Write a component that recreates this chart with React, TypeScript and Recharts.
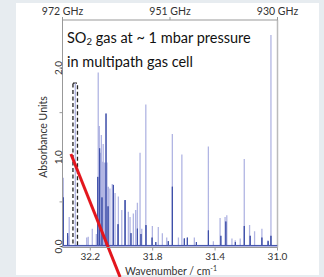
import React from "react"
import {
  LineChart,
  Line,
  XAxis,
  YAxis,
  ReferenceLine,
  ReferenceArea
} from "recharts"

// simulated line list (light lavender sticks)
const lightWn = [
  32.373, 32.345, 32.335, 32.296, 32.223, 32.213, 32.187, 32.161, 32.149, 32.142,
  32.136, 32.129, 32.123, 32.117, 32.110, 32.104, 32.093, 32.084, 32.074, 32.059,
  32.041, 32.020, 31.998, 31.977, 31.956, 31.945, 31.924, 31.909, 31.898, 31.881,
  31.870, 31.844, 31.802, 31.764, 31.738, 31.710, 31.674, 31.635, 31.613, 31.597,
  31.533, 31.443, 31.411, 31.368, 31.336, 31.325, 31.292, 31.271, 31.239, 31.213,
  31.179, 31.147, 31.100, 31.061, 31.042
]
const lightAbs = [
  0.77, 0.12, 0.33, 1.83, 0.10, 0.11, 0.20, 0.14, 1.95, 1.35,
  1.05, 1.25, 0.95, 1.15, 0.94, 0.94, 0.94, 0.67, 0.65, 0.70,
  0.60, 0.56, 0.41, 0.52, 0.39, 0.33, 0.37, 0.41, 0.49, 1.05,
  0.20, 1.59, 0.23, 0.22, 0.15, 0.10, 1.26, 0.10, 1.03, 0.09,
  0.10, 1.12, 0.06, 0.32, 0.33, 0.35, 0.09, 0.07, 0.09, 0.98,
  0.24, 0.17, 0.20, 0.07, 2.37
]

// measured spectrum (dark blue)
const darkWn = [
  32.373, 32.345, 32.152, 32.140, 32.125, 32.099, 32.086, 32.052,
  32.022, 31.977, 31.939, 31.898, 31.875, 31.843, 31.804, 31.780, 31.700, 31.674,
  31.597, 31.578, 31.520, 31.443, 31.363, 31.331, 31.270, 31.213, 31.175, 31.100,
  31.060, 31.042
]
const darkAbs = [
  0.55, 0.15, 0.78, 1.10, 0.55, 1.49, 0.45, 0.69,
  0.25, 0.52, 0.15, 0.20, 0.14, 0.24, 0.10, 0.05, 0.06, 0.67,
  0.09, 0.10, 0.05, 0.18, 0.12, 0.28, 0.05, 0.23, 0.12, 0.10,
  0.06, 0.12
]

const wnTicks = [32.2, 31.8, 31.4, 31.0]
const ghzTicks = [972, 951, 930]
const absTicks = [0, 0.5, 1, 1.5, 2]

const WN_MAX = 32.378
const WN_MIN = 31.0

function sticks(wn: number[], abs: number[], base: number) {
  const pts: { wn: number; a: number }[] = [{ wn: WN_MAX, a: base }]
  wn.forEach((w, i) => {
    pts.push({ wn: w, a: base })
    pts.push({ wn: w, a: abs[i] })
    pts.push({ wn: w, a: base })
  })
  pts.push({ wn: WN_MIN, a: base })
  return pts
}

const lightData = sticks(lightWn, lightAbs, 0)
const darkData = sticks(darkWn, darkAbs, 0.012)
// only there so the GHz axis has something bound to it
const ghzData = ghzTicks.map((g) => ({ ghz: g, a: null }))

const font = "Lato, 'Open Sans', sans-serif"

const YTick = (props: any) => {
  const { x, y, payload } = props
  if (payload.value % 1 !== 0) return <g />
  const bx = x + 2.5
  return (
    <text
      x={bx}
      y={y}
      transform={`rotate(-90 ${bx} ${y})`}
      textAnchor="middle"
      fontSize={10}
      fill="#333"
      fontFamily={font}
    >
      {payload.value.toFixed(1)}
    </text>
  )
}

export default function App() {
  return (
    <div
      style={{
        position: "absolute",
        left: 0,
        top: 0,
        width: 324,
        height: 277,
        background: "#e7ecf0",
        overflow: "hidden",
        fontFamily: font
      }}
    >
      <div
        style={{
          position: "absolute",
          left: 16,
          top: 3,
          width: 303,
          height: 272,
          background: "#ffffff"
        }}
      />

      <div style={{ position: "absolute", left: 0, top: 0 }}>
        <LineChart
          width={324}
          height={277}
          margin={{ top: 0, right: 46.5, bottom: 0, left: 2.5 }}
        >
          <XAxis
            xAxisId="wn"
            dataKey="wn"
            type="number"
            domain={[WN_MIN, WN_MAX]}
            reversed
            allowDataOverflow
            ticks={wnTicks}
            tickFormatter={(v: number) => v.toFixed(1)}
            height={29.5}
            tickSize={3}
            tickMargin={2}
            stroke="#999"
            tick={{ fontSize: 10, fill: "#333", fontFamily: font }}
          />
          <XAxis
            xAxisId="ghz"
            dataKey="ghz"
            orientation="top"
            type="number"
            domain={[930, 972]}
            reversed
            allowDataOverflow
            ticks={ghzTicks}
            tickFormatter={(v: number) => `${v} GHz`}
            height={20}
            tickSize={3}
            tickMargin={2}
            stroke="#999"
            tick={{ fontSize: 10.5, fill: "#333", fontFamily: font }}
          />
          <YAxis
            type="number"
            domain={[-0.011, 2.538]}
            allowDataOverflow
            ticks={absTicks}
            width={60}
            tickSize={3}
            tickMargin={0}
            stroke="#999"
            tick={<YTick />}
          />

          <ReferenceLine xAxisId="wn" x={WN_MIN} stroke="#bbb" strokeWidth={1.5} />

          <Line
            xAxisId="ghz"
            data={ghzData}
            dataKey="a"
            stroke="none"
            dot={false}
            isAnimationActive={false}
          />
          <Line
            xAxisId="wn"
            data={lightData}
            dataKey="a"
            type="linear"
            stroke="#b1b5e3"
            strokeWidth={1.3}
            dot={false}
            isAnimationActive={false}
          />
          <Line
            xAxisId="wn"
            data={darkData}
            dataKey="a"
            type="linear"
            stroke="#3d4ea8"
            strokeWidth={1}
            dot={false}
            isAnimationActive={false}
          />

          <ReferenceArea
            xAxisId="wn"
            x1={32.311}
            x2={32.282}
            y1={0}
            y2={1.83}
            stroke="#222"
            strokeWidth={1.3}
            strokeDasharray="4 2.5"
            fill="none"
            fillOpacity={0}
          />
          <ReferenceLine
            xAxisId="wn"
            segment={[
              { x: 32.324, y: 1.036 },
              { x: 32.009, y: -0.342 }
            ]}
            ifOverflow="visible"
            stroke="#e3161d"
            strokeWidth={3}
          />
        </LineChart>
      </div>

      <div
        style={{
          position: "absolute",
          left: 67,
          top: 28,
          fontSize: 14.5,
          lineHeight: "19.5px",
          color: "#111",
          whiteSpace: "nowrap"
        }}
      >
        <div>
          SO<sub style={{ fontSize: 9.5, verticalAlign: "-2px" }}>2</sub> gas at ~ 1 mbar pressure
        </div>
        <div>in multipath gas cell</div>
      </div>

      <div
        style={{
          position: "absolute",
          left: 43,
          top: 137,
          transform: "translate(-50%, -50%) rotate(-90deg)",
          fontSize: 10.5,
          color: "#333",
          whiteSpace: "nowrap"
        }}
      >
        Absorbance Units
      </div>

      <div
        style={{
          position: "absolute",
          left: 171,
          top: 262,
          transform: "translateX(-50%)",
          fontSize: 10.5,
          lineHeight: "12px",
          color: "#333",
          whiteSpace: "nowrap"
        }}
      >
        Wavenumber / cm<sup style={{ fontSize: 7, verticalAlign: "4px" }}>-1</sup>
      </div>
    </div>
  )
}
